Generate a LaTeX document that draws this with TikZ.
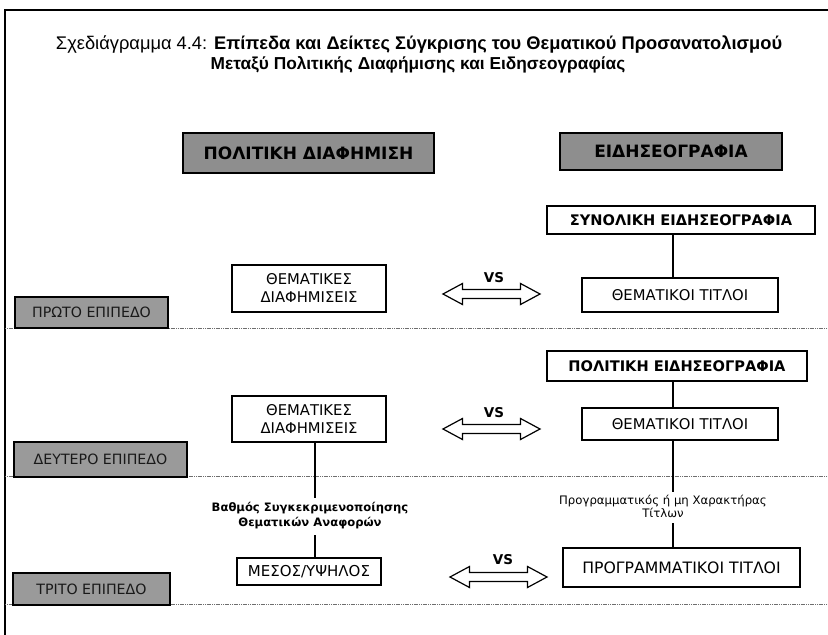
\documentclass[tikz,border=0pt]{standalone}
\usepackage{fontspec}
\setmainfont{DejaVu Sans}
\newfontfamily\titlefont{Liberation Sans}
\usetikzlibrary{calc}
\definecolor{hdrgray}{HTML}{8E8E8E}
\definecolor{lvlgray}{HTML}{9A9A9A}
\definecolor{sepgray}{HTML}{6E6E6E}
\begin{document}
\begin{tikzpicture}[x=1pt,y=-1pt,
  box/.style={draw, line width=1.6pt, align=center, inner sep=0pt, fill=white,
    font=\fontsize{14.8}{18}\selectfont},
  bbox/.style={box, font=\bfseries\fontsize{14.6}{17}\selectfont},
  hdr/.style={draw, line width=2.2pt, fill=hdrgray, inner sep=0pt,
    font=\bfseries\fontsize{17}{20}\selectfont},
  lvl/.style={draw, line width=1.6pt, fill=lvlgray, inner sep=0pt, text=black!90,
    font=\fontsize{14.2}{16}\selectfont},
  sep/.style={sepgray, line width=0.8pt, dash pattern=on 1.2pt off 0.6pt},
  conn/.style={line width=1.4pt},
  vs/.style={font=\bfseries\fontsize{13.5}{15}\selectfont, inner sep=0pt},
  lbl/.style={align=center, inner sep=0pt},
  dblarrow/.pic={\draw[line width=1.2pt, line join=miter, fill=white]
    (-48.5,0) -- (-29,-10.5) -- (-29,-4.5) -- (29,-4.5) -- (29,-10.5) -- (48.5,0)
    -- (29,10.5) -- (29,4.5) -- (-29,4.5) -- (-29,10.5) -- cycle;}
]
\useasboundingbox (0,0) rectangle (828,635);
\fill[white] (0,0) rectangle (828,635);

% frame
\draw[line width=2pt] (5,635) -- (5,10) -- (828,10);

% title
\node[inner sep=0pt, font=\titlefont\fontsize{18.3}{21}\selectfont] (title1) at (419,45)
  {Σχεδιάγραμμα 4.4: \textbf{Επίπεδα και Δείκτες Σύγκρισης του Θεματικού Προσανατολισμού}};
\node[inner sep=0pt, font=\titlefont\bfseries\fontsize{17.3}{21}\selectfont] (title2) at (418,65)
  {Μεταξύ Πολιτικής Διαφήμισης και Ειδησεογραφίας};

% separators
\draw[sep] (5,328) -- (828,328);
\draw[sep] (5,476) -- (828,476);
\draw[sep] (5,604) -- (828,604);

% column headers
\node[hdr, minimum width=251pt, minimum height=40pt] (hPA) at (308.5,153) {ΠΟΛΙΤΙΚΗ ΔΙΑΦΗΜΙΣΗ};
\node[hdr, minimum width=222pt, minimum height=37pt] (hEI) at (671,151.5) {ΕΙΔΗΣΕΟΓΡΑΦΙΑ};

% level labels
\node[lvl, minimum width=153pt, minimum height=31pt] (l1) at (91.5,312.5) {ΠΡΩΤΟ ΕΠΙΠΕΔΟ};
\node[lvl, minimum width=173pt, minimum height=35pt] (l2) at (100.5,459.5) {ΔΕΥΤΕΡΟ ΕΠΙΠΕΔΟ};
\node[lvl, minimum width=157pt, minimum height=32pt] (l3) at (91.5,589) {ΤΡΙΤΟ ΕΠΙΠΕΔΟ};

% first level
\node[box, minimum width=154pt, minimum height=47pt] (td1) at (309,288.5) {ΘΕΜΑΤΙΚΕΣ\\ΔΙΑΦΗΜΙΣΕΙΣ};
\node[bbox, minimum width=268pt, minimum height=28pt] (syn) at (681,220) {ΣΥΝΟΛΙΚΗ ΕΙΔΗΣΕΟΓΡΑΦΙΑ};
\node[box, minimum width=196pt, minimum height=34pt] (tt1) at (680,295) {ΘΕΜΑΤΙΚΟΙ ΤΙΤΛΟΙ};
\coordinate (xr) at (673,0);
\coordinate (xl) at (315,0);
\draw[conn] (syn.south -| xr) -- (tt1.north -| xr);
\pic at (491.5,294) {dblarrow};
\node[vs] (vs1) at (494,278) {VS};

% second level
\node[box, minimum width=154pt, minimum height=46pt] (td2) at (309,419) {ΘΕΜΑΤΙΚΕΣ\\ΔΙΑΦΗΜΙΣΕΙΣ};
\node[bbox, minimum width=260pt, minimum height=30pt] (pe) at (677,366) {ΠΟΛΙΤΙΚΗ ΕΙΔΗΣΕΟΓΡΑΦΙΑ};
\node[box, minimum width=196pt, minimum height=32pt] (tt2) at (680,424) {ΘΕΜΑΤΙΚΟΙ ΤΙΤΛΟΙ};
\draw[conn] (pe.south -| xr) -- (tt2.north -| xr);
\pic at (491.5,429) {dblarrow};
\node[vs] (vs2) at (494,413) {VS};

% third level
\node[lbl, font=\bfseries\fontsize{11.6}{15}\selectfont] (lblL) at (310,515.5) {Βαθμός Συγκεκριμενοποίησης\\Θεματικών Αναφορών};
\node[lbl, font=\fontsize{11.7}{13}\selectfont] (lblR) at (663,506) {Προγραμματικός ή μη Χαρακτήρας\\Τίτλων};
\node[box, minimum width=144pt, minimum height=27pt, font=\fontsize{15}{18}\selectfont] (mes) at (309,571.5) {ΜΕΣΟΣ/ΥΨΗΛΟΣ};
\node[box, minimum width=237pt, minimum height=39pt, font=\fontsize{15.7}{18}\selectfont] (pt) at (681.5,567.5) {ΠΡΟΓΡΑΜΜΑΤΙΚΟΙ ΤΙΤΛΟΙ};
\draw[conn] (td2.south -| xl) -- ($(lblL.north -| xl)+(0,-4)$);
\draw[conn] ($(lblL.south -| xl)+(0,6)$) -- (mes.north -| xl);
\draw[conn] (tt2.south -| xr) -- ($(lblR.north -| xr)+(0,-3)$);
\draw[conn] ($(lblR.south -| xr)+(0,6)$) -- (pt.north -| xr);
\pic at (498.5,577) {dblarrow};
\node[vs] (vs3) at (503,560) {VS};
\end{tikzpicture}
\end{document}
